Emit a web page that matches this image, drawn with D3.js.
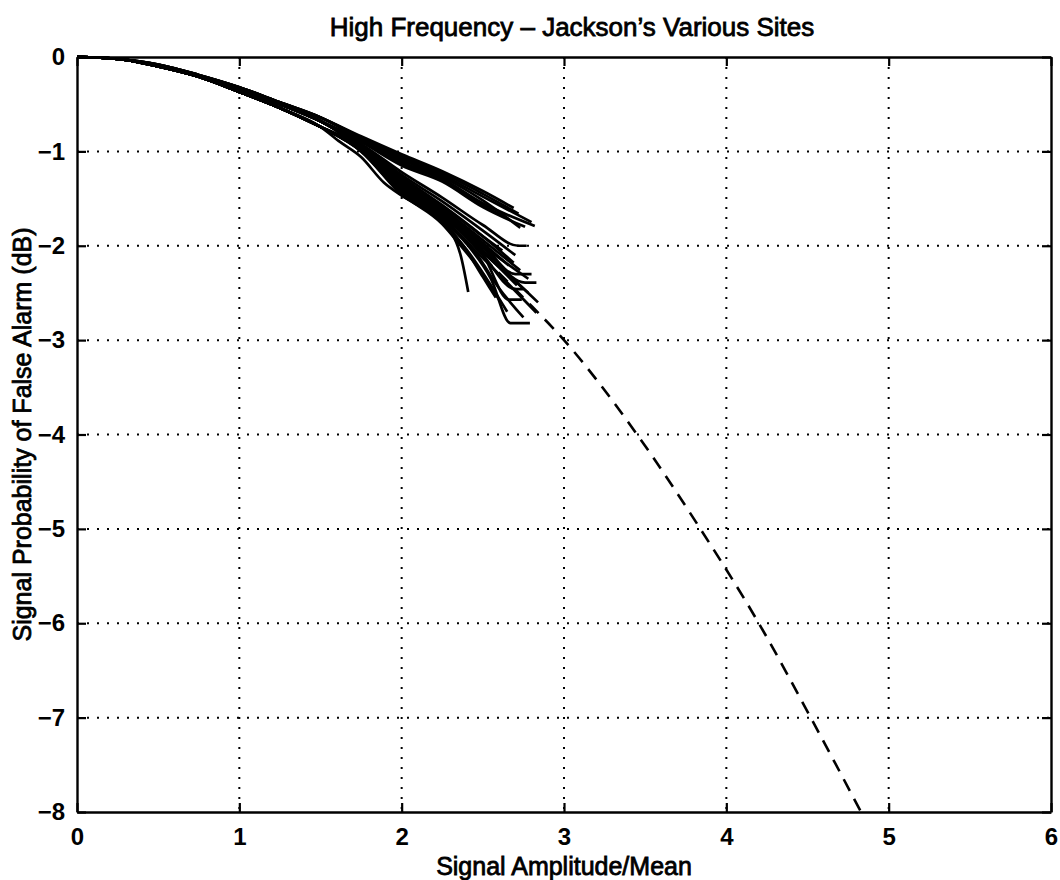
<!DOCTYPE html>
<html>
<head>
<meta charset="utf-8">
<script src="https://cdn.jsdelivr.net/npm/d3@7"></script>
<style>
  body { margin: 0; background: #fff; }
  text { font-family: "Liberation Sans", Arial, Helvetica, sans-serif; fill: #000; }
</style>
</head>
<body>
<div id="chart"></div>
<script>
// axis ticks
var xTicks = [0, 1, 2, 3, 4, 5, 6];
var yTicks = [0, -1, -2, -3, -4, -5, -6, -7, -8];

// dashed reference curve, visible part
var dashX = [2.5, 2.75, 3, 3.45, 3.84, 4.2, 4.52, 4.83];
var dashY = [-2.12, -2.55, -3.0, -4.0, -5.0, -6.0, -7.0, -8.0];

// shared start of the measured curves, three shapes of the bundle
var headX = [0, 0.25, 0.5, 0.75, 1, 1.25, 1.5];
var heads = [
  [0, -0.02, -0.08, -0.19, -0.32, -0.48, -0.64],
  [0, -0.02, -0.09, -0.20, -0.34, -0.50, -0.68],
  [0, -0.02, -0.10, -0.21, -0.37, -0.54, -0.74]
];

// which head each site curve uses, and the rest of it
var curveHead = [0,0,0,0,1,1,1, 1,1,1,1,2,2,2,2,2,2,2,2,1,1,2,2,2,1,2,2,1];
var curveTail = [
  [[1.75,-0.84],[2,-1.03],[2.25,-1.21],[2.5,-1.42],[2.69,-1.6]],
  [[1.75,-0.85],[2,-1.05],[2.25,-1.23],[2.5,-1.45],[2.72,-1.66]],
  [[1.75,-0.86],[2,-1.07],[2.25,-1.25],[2.5,-1.48],[2.8,-1.75]],
  [[1.75,-0.87],[2,-1.09],[2.25,-1.27],[2.5,-1.52],[2.73,-1.81]],
  [[1.75,-0.88],[2,-1.11],[2.25,-1.29],[2.5,-1.55],[2.82,-1.79]],
  [[1.75,-0.89],[2,-1.13],[2.25,-1.30],[2.5,-1.57],[2.64,-1.7]],
  [[1.75,-0.90],[2,-1.15],[2.25,-1.32],[2.5,-1.59],[2.76,-1.8]],
  [[1.75,-0.92],[2,-1.22],[2.25,-1.49],[2.5,-1.78],[2.72,-2.0],[2.77,-2.0]],
  [[1.75,-0.93],[2,-1.25],[2.25,-1.53],[2.5,-1.84],[2.7,-2.1]],
  [[1.75,-0.94],[2,-1.27],[2.25,-1.57],[2.5,-1.9],[2.69,-2.18]],
  [[1.75,-0.95],[2,-1.29],[2.25,-1.6],[2.5,-1.94],[2.73,-2.26]],
  [[1.75,-0.96],[2,-1.31],[2.25,-1.63],[2.5,-1.99],[2.7,-2.3],[2.8,-2.3]],
  [[1.75,-0.97],[2,-1.33],[2.25,-1.65],[2.5,-2.02],[2.76,-2.39],[2.83,-2.39]],
  [[1.75,-0.97],[2,-1.35],[2.25,-1.67],[2.5,-2.05],[2.84,-2.6]],
  [[1.75,-0.98],[2,-1.37],[2.25,-1.69],[2.5,-2.09],[2.66,-2.57],[2.74,-2.57]],
  [[1.75,-0.98],[2,-1.39],[2.25,-1.71],[2.5,-2.13],[2.83,-2.71]],
  [[1.75,-0.99],[2,-1.41],[2.25,-1.73],[2.4,-1.98],[2.55,-2.35],[2.67,-2.82],[2.79,-2.82]],
  [[1.75,-0.99],[2,-1.43],[2.25,-1.75],[2.4,-2.04],[2.55,-2.42],[2.65,-2.7]],
  [[1.75,-1.0],[2,-1.45],[2.25,-1.77],[2.35,-1.97],[2.5,-2.3],[2.61,-2.6]],
  [[1.75,-0.96],[2,-1.36],[2.25,-1.68],[2.5,-2.06],[2.71,-2.42]],
  [[1.75,-0.95],[2,-1.32],[2.25,-1.61],[2.5,-1.97],[2.66,-2.21]],
  [[1.75,-1.0],[2,-1.46],[2.25,-1.74],[2.38,-2.0],[2.5,-2.33],[2.58,-2.55]],
  [[1.75,-0.98],[2,-1.4],[2.25,-1.7],[2.45,-2.06],[2.6,-2.45],[2.75,-2.76]],
  [[1.62,-0.9],[1.75,-1.06],[1.89,-1.33],[2,-1.47],[2.24,-1.73],[2.36,-2.08],[2.41,-2.49]],
  [[1.75,-0.97],[2,-1.38],[2.25,-1.66],[2.5,-2.07],[2.78,-2.5]],
  [[1.75,-0.94],[2,-1.3],[2.25,-1.58],[2.5,-1.9],[2.62,-2.05]],
  [[1.75,-0.97],[2,-1.34],[2.25,-1.66],[2.5,-2.1],[2.7,-2.46],[2.75,-2.46]],
  [[1.75,-0.96],[2,-1.34],[2.25,-1.64],[2.5,-2.0],[2.78,-2.35]]
];

var width = 1060, height = 880;
var x0 = 77, x1 = 1051, y0 = 57, y1 = 812;

var svg = d3.select("#chart").append("svg")
  .attr("width", width).attr("height", height);

var x = d3.scaleLinear().domain([0, 6]).range([x0, x1]);
var y = d3.scaleLinear().domain([-8, 0]).range([y1, y0]);

// grid
svg.append("g").selectAll("line").data(xTicks.slice(1, -1)).enter().append("line")
  .attr("x1", function(d) { return x(d); }).attr("x2", function(d) { return x(d); })
  .attr("y1", y0).attr("y2", y1)
  .attr("stroke", "#000").attr("stroke-width", 2).attr("stroke-dasharray", "2,8");
svg.append("g").selectAll("line").data(yTicks.slice(1, -1)).enter().append("line")
  .attr("y1", function(d) { return y(d); }).attr("y2", function(d) { return y(d); })
  .attr("x1", x0).attr("x2", x1)
  .attr("stroke", "#000").attr("stroke-width", 2).attr("stroke-dasharray", "2,8");

var line = d3.line()
  .x(function(d) { return x(d[0]); })
  .y(function(d) { return y(d[1]); })
  .curve(d3.curveMonotoneX);

// dashed curve
svg.append("path")
  .datum(dashX.map(function(v, i) { return [v, dashY[i]]; }))
  .attr("d", line)
  .attr("fill", "none").attr("stroke", "#000").attr("stroke-width", 2.6)
  .attr("stroke-dasharray", "13,9");

// site curves
var curves = curveTail.map(function(t, i) {
  var h = heads[curveHead[i]];
  return headX.map(function(v, j) { return [v, h[j]]; }).concat(t);
});
svg.append("g").selectAll("path").data(curves).enter().append("path")
  .attr("d", line)
  .attr("fill", "none").attr("stroke", "#000").attr("stroke-width", 2.7)
  .attr("stroke-linejoin", "round");

// axes, ticks inward on all four sides
var fmt = function(d) { return d < 0 ? "\u2212" + Math.abs(d) : String(d); };
svg.append("g").attr("transform", "translate(0," + y1 + ")")
  .call(d3.axisBottom(x).tickValues(xTicks).tickSizeInner(-9).tickSizeOuter(0).tickPadding(16).tickFormat(fmt));
svg.append("g").attr("transform", "translate(" + x0 + ",0)")
  .call(d3.axisLeft(y).tickValues(yTicks).tickSizeInner(-9).tickSizeOuter(0).tickPadding(12).tickFormat(fmt));
svg.append("g").attr("transform", "translate(0," + y0 + ")")
  .call(d3.axisTop(x).tickValues(xTicks).tickSizeInner(-9).tickSizeOuter(0).tickFormat(""));
svg.append("g").attr("transform", "translate(" + x1 + ",0)")
  .call(d3.axisRight(y).tickValues(yTicks).tickSizeInner(-9).tickSizeOuter(0).tickFormat(""));

svg.selectAll(".domain").attr("stroke", "#000").attr("stroke-width", 2.4);
svg.selectAll(".tick line").attr("stroke", "#000").attr("stroke-width", 2.2);
svg.selectAll(".tick text")
  .attr("font-size", 24).attr("font-weight", "bold").attr("fill", "#000")
  .style("font-family", "'Liberation Sans', Arial, sans-serif");

// titles
svg.append("text").attr("x", (x0 + x1) / 2 + 8).attr("y", 36)
  .attr("text-anchor", "middle").attr("font-size", 26)
  .attr("stroke", "#000").attr("stroke-width", 0.8)
  .text("High Frequency \u2013 Jackson\u2019s Various Sites");
svg.append("text").attr("x", (x0 + x1) / 2).attr("y", 875)
  .attr("text-anchor", "middle").attr("font-size", 25)
  .attr("stroke", "#000").attr("stroke-width", 0.8)
  .text("Signal Amplitude/Mean");
svg.append("text")
  .attr("transform", "translate(31," + (y0 + y1) / 2 + ") rotate(-90)")
  .attr("text-anchor", "middle").attr("font-size", 25)
  .attr("stroke", "#000").attr("stroke-width", 0.8)
  .text("Signal Probability of False Alarm (dB)");
</script>
</body>
</html>
